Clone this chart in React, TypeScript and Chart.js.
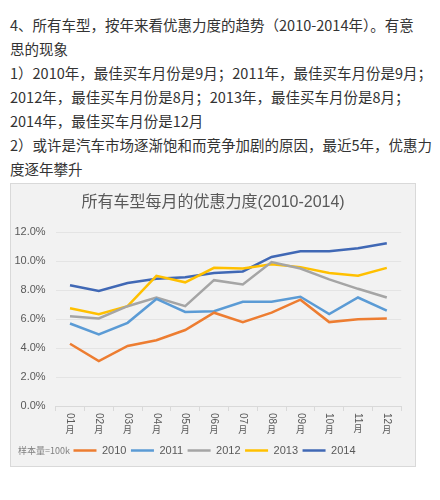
import React, { useEffect, useRef } from "react";
import { Chart, registerables } from "chart.js";

Chart.register(...registerables);

const introLines = [
  "4、所有车型，按年来看优惠力度的趋势（2010-2014年）。有意",
  "思的现象",
  "1）2010年，最佳买车月份是9月；2011年，最佳买车月份是9月；",
  "2012年，最佳买车月份是8月；2013年，最佳买车月份是8月；",
  "2014年，最佳买车月份是12月",
  "2）或许是汽车市场逐渐饱和而竞争加剧的原因，最近5年，优惠力",
  "度逐年攀升",
];

const chartTitle = "所有车型每月的优惠力度(2010-2014)";
const sampleNote = "样本量=100k";

const months = ["01月", "02月", "03月", "04月", "05月", "06月", "07月", "08月", "09月", "10月", "11月", "12月"];

const seriesNames = ["2010", "2011", "2012", "2013", "2014"];
const colors = ["#ED7D31", "#5B9BD5", "#A5A5A5", "#FFC000", "#4068B5"];

const y2010 = [4.3, 3.1, 4.15, 4.55, 5.25, 6.45, 5.8, 6.45, 7.35, 5.8, 6.0, 6.05];
const y2011 = [5.7, 4.95, 5.75, 7.4, 6.5, 6.55, 7.2, 7.2, 7.55, 6.35, 7.5, 6.6];
const y2012 = [6.2, 6.05, 6.9, 7.5, 6.9, 8.7, 8.4, 9.95, 9.5, 8.75, 8.1, 7.5];
const y2013 = [6.75, 6.35, 6.9, 9.0, 8.55, 9.55, 9.5, 9.8, 9.6, 9.2, 9.0, 9.55];
const y2014 = [8.35, 7.95, 8.5, 8.8, 8.9, 9.2, 9.3, 10.3, 10.7, 10.7, 10.9, 11.25];

const seriesValues = [y2010, y2011, y2012, y2013, y2014];

const yMin = 0;
const yMax = 12;
const yStep = 2;

const verticalLabels = {
  id: "verticalLabels",
  afterLayout(chart: any) {
    if (chart.legend) {
      chart.legend.left += 8.4;
      chart.legend.right += 8.4;
    }
    if (chart.titleBlock) {
      chart.titleBlock.left += 7;
      chart.titleBlock.right += 7;
    }
  },
  afterDraw(chart: any) {
    const xs = chart.scales.x;
    const ctx = chart.ctx;
    const top = chart.chartArea.bottom + 7;
    ctx.save();
    ctx.fillStyle = "#595959";
    ctx.font = "10px 'Liberation Sans', Arial, 'Noto Sans CJK SC'";
    months.forEach((label: string, i: number) => {
      const x = xs.getPixelForTick(i);
      const digits = label.replace("月", "");
      const w = ctx.measureText(digits).width;
      ctx.save();
      ctx.translate(x, top);
      ctx.rotate(Math.PI / 2);
      ctx.textAlign = "left";
      ctx.textBaseline = "middle";
      ctx.fillText(digits, 0, 0);
      ctx.restore();
      ctx.save();
      ctx.font = "9px 'Noto Sans CJK SC'";
      ctx.textAlign = "center";
      ctx.textBaseline = "top";
      ctx.fillText("月", x, top + w + 0.5);
      ctx.restore();
    });
    ctx.restore();
  },
};

export default function App() {
  const canvasRef = useRef<HTMLCanvasElement | null>(null);

  useEffect(() => {
    if (!canvasRef.current) return;
    const chart = new Chart(canvasRef.current, {
      type: "line",
      data: {
        labels: months,
        datasets: seriesNames.map((name, i) => ({
          label: name,
          data: seriesValues[i],
          borderColor: colors[i],
          backgroundColor: colors[i],
          borderWidth: 2.5,
          pointRadius: 0,
          tension: 0,
          fill: false,
        })),
      },
      options: {
        animation: false,
        responsive: true,
        maintainAspectRatio: false,
        layout: { padding: { left: 0, right: 13.8, top: 0, bottom: 0 } },
        plugins: {
          tooltip: { enabled: false },
          title: {
            display: true,
            text: chartTitle,
            color: "#595959",
            font: { size: 16, family: "'Liberation Sans', 'Noto Sans CJK SC'", weight: "normal" },
            padding: { top: 9, bottom: 20.2 },
          },
          legend: {
            position: "bottom",
            labels: {
              usePointStyle: true,
              pointStyle: "line",
              pointStyleWidth: 23,
              color: "#595959",
              font: { size: 11, family: "'Liberation Sans', Arial" },
              padding: 4.5,
            },
          },
        },
        scales: {
          x: {
            offset: true,
            grid: {
              offset: true,
              drawOnChartArea: false,
              drawTicks: true,
              tickLength: 5,
              color: "#d9d9d9",
            },
            border: { display: true, color: "#d9d9d9" },
            ticks: { callback: () => "", color: "transparent", maxRotation: 0, minRotation: 0 },
            afterFit: (s: any) => {
              s.height = 34.5;
            },
          },
          y: {
            min: yMin,
            max: yMax,
            border: { display: false },
            grid: { color: "#e4e4e4", drawTicks: false },
            ticks: {
              stepSize: yStep,
              padding: 10,
              color: "#595959",
              font: { size: 11, family: "'Liberation Sans', Arial" },
              callback: (v: any) => Number(v).toFixed(1) + "%",
            },
            afterFit: (s: any) => {
              s.width = 44.6;
            },
          },
        },
      },
      plugins: [verticalLabels],
    });
    return () => chart.destroy();
  }, []);

  return (
    <div
      style={{
        position: "fixed",
        left: 0,
        top: 0,
        width: 440,
        height: 500,
        background: "#ffffff",
        fontFamily: "'Noto Sans CJK SC', sans-serif",
      }}
    >
      <div style={{ position: "absolute", left: 10, top: 13, color: "#333333", fontSize: 14.5, lineHeight: "24px" }}>
        {introLines.map((t, i) => (
          <div key={i} style={{ whiteSpace: "nowrap" }}>
            {t}
          </div>
        ))}
      </div>
      <div
        style={{
          position: "absolute",
          left: 10,
          top: 183,
          width: 406,
          height: 284,
          boxSizing: "border-box",
          border: "1px solid #d9d9d9",
          background: "#f2f2f2",
        }}
      >
        <div style={{ position: "relative", width: 404, height: 282 }}>
          <canvas ref={canvasRef} />
        </div>
        <div
          style={{
            position: "absolute",
            left: 7,
            top: 262,
            fontSize: 9,
            lineHeight: "10px",
            color: "#808080",
            whiteSpace: "nowrap",
          }}
        >
          {sampleNote}
        </div>
      </div>
    </div>
  );
}
